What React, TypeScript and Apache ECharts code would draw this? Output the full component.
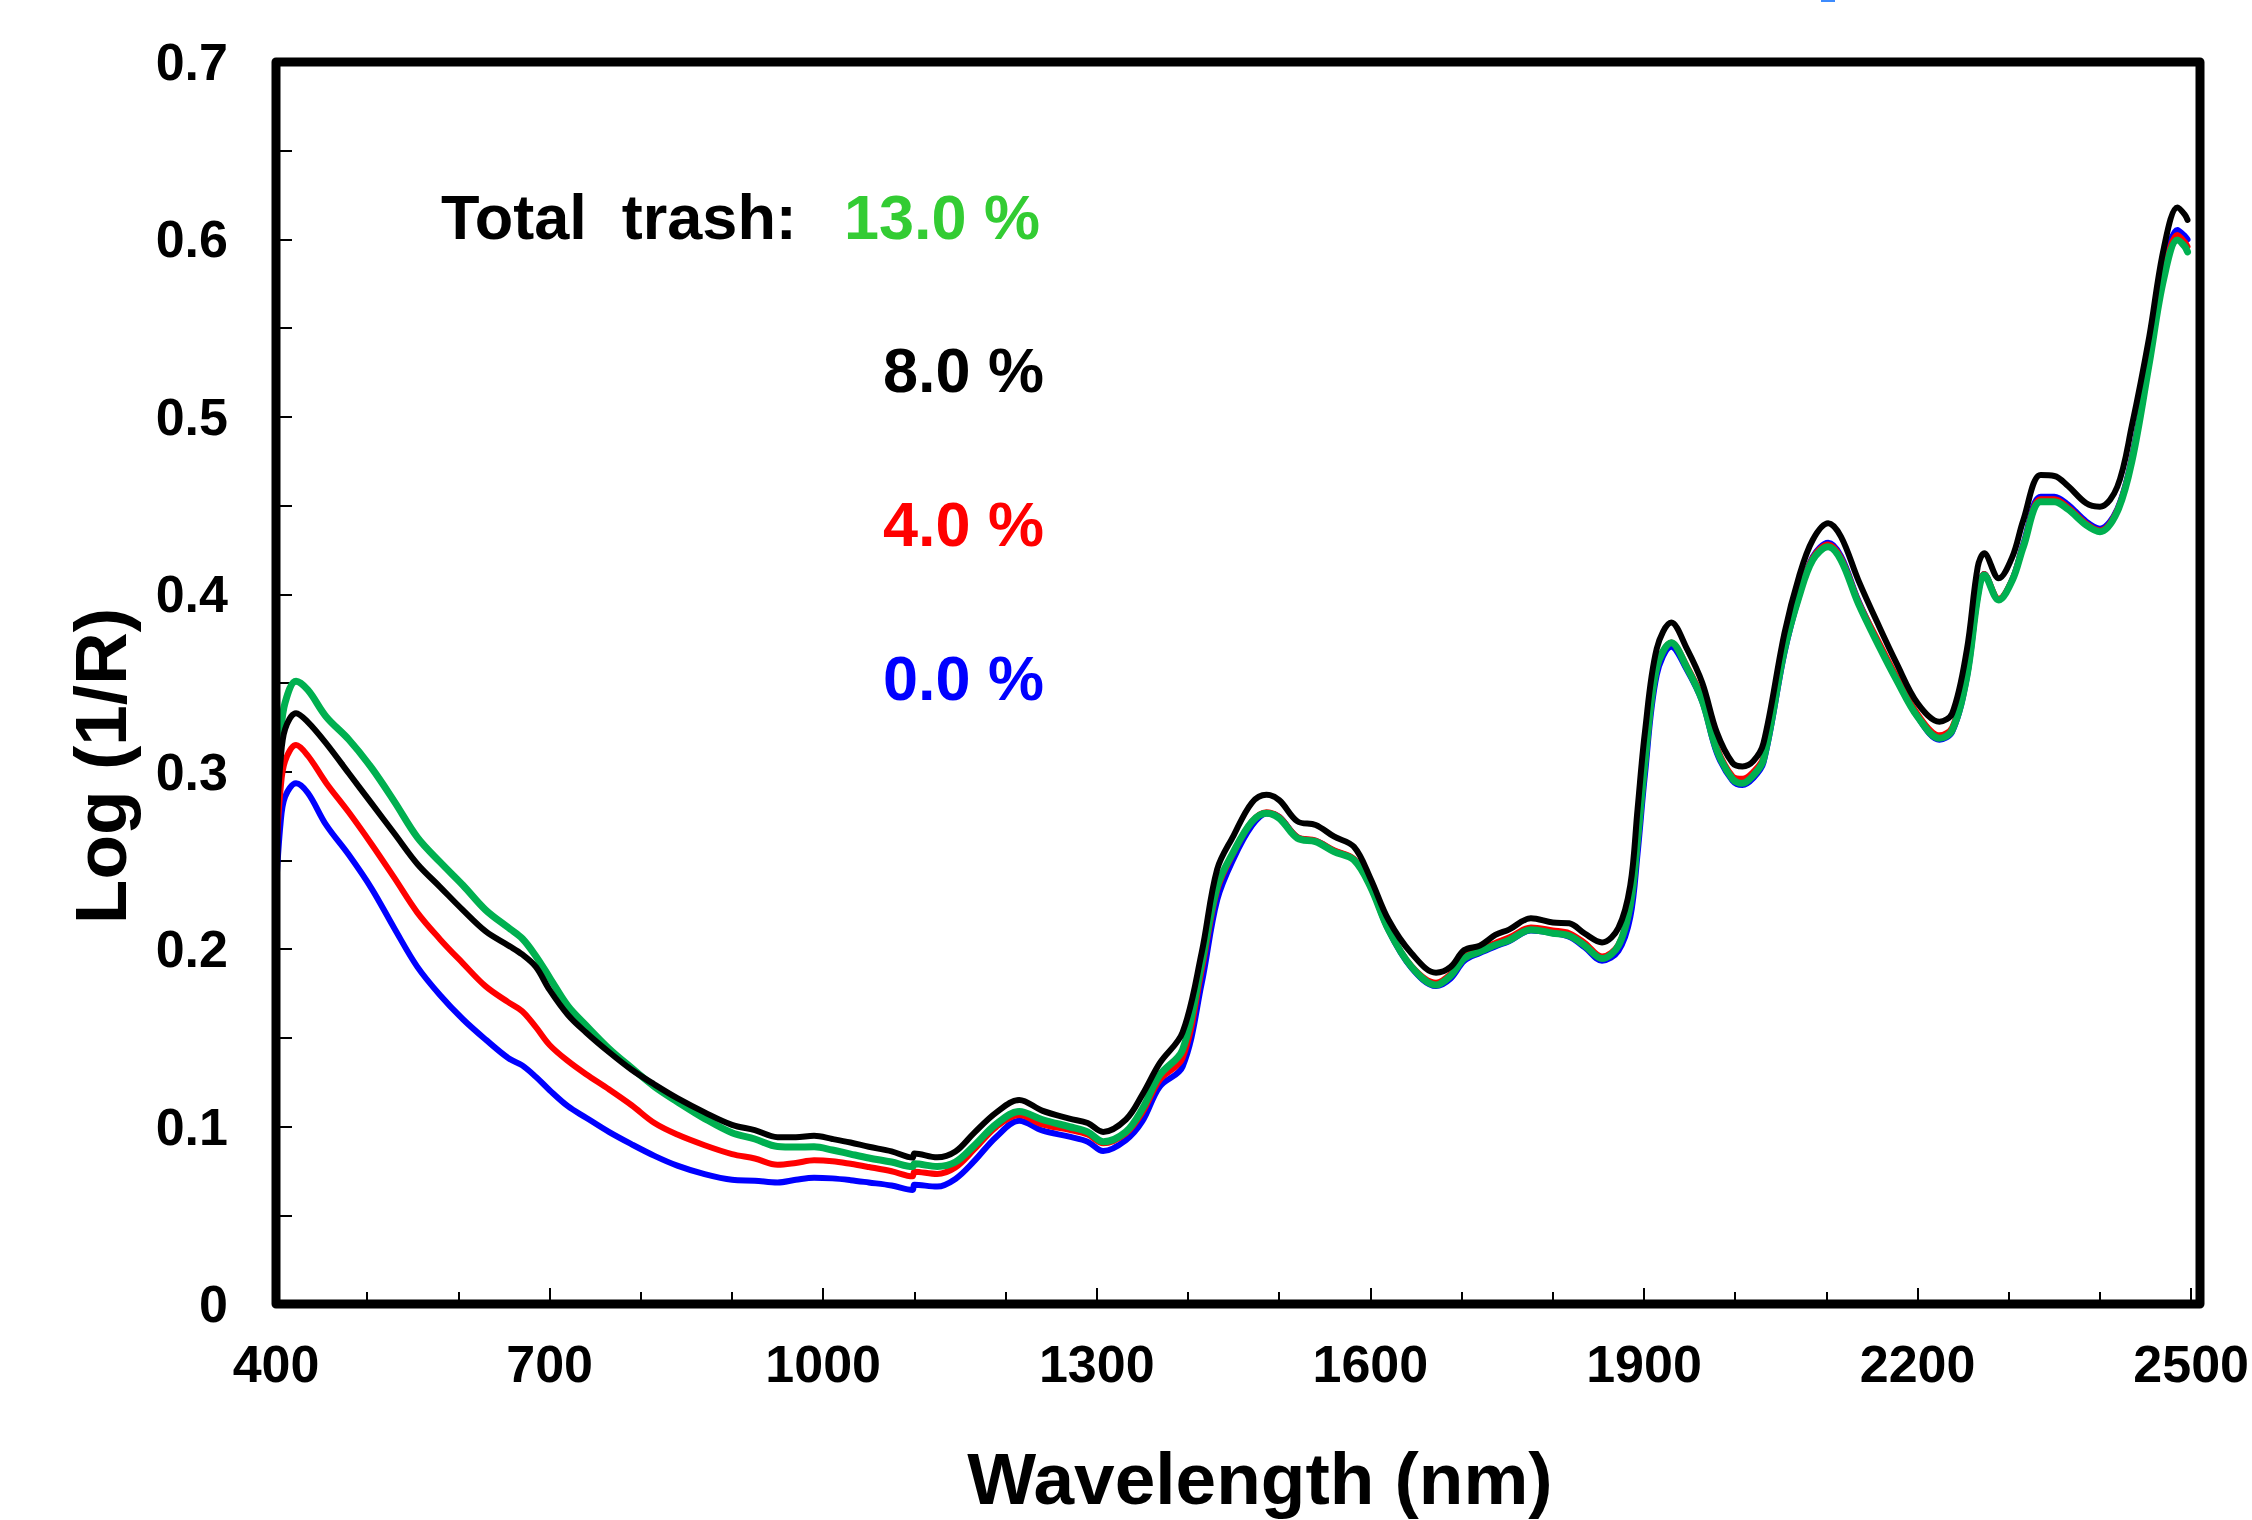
import React, { useEffect, useRef } from "react";
import * as echarts from "echarts";

const wavelength = [
  400, 405, 410, 422, 435, 455, 480, 505, 530, 555,
  580, 605, 630, 655, 670, 685, 700, 720, 740, 765,
  790, 815, 840, 870, 900, 925, 950, 970, 990, 1010,
  1030, 1050, 1075, 1098, 1100, 1125, 1145, 1165, 1190, 1215,
  1240, 1270, 1290, 1307, 1332, 1350, 1369, 1394, 1415, 1432,
  1450, 1470, 1486, 1500, 1520, 1540, 1560, 1582, 1600, 1620,
  1645, 1672, 1688, 1703, 1720, 1737, 1752, 1776, 1800, 1818,
  1835, 1854, 1872, 1885, 1893, 1901, 1914, 1930, 1947, 1964,
  1980, 1997, 2008, 2020, 2031, 2054, 2070, 2085, 2102, 2116,
  2135, 2158, 2177, 2200, 2224, 2238, 2254, 2266, 2273, 2289,
  2304, 2316, 2335, 2350, 2365, 2385, 2400, 2419, 2435, 2454,
  2470, 2485, 2493, 2496,
];

const trash8 = [
  0.266, 0.306, 0.324, 0.333, 0.328, 0.316, 0.299, 0.282, 0.265, 0.248,
  0.235, 0.222, 0.21, 0.202, 0.197, 0.19, 0.177, 0.163, 0.153, 0.142,
  0.132, 0.1237, 0.116, 0.108, 0.101, 0.098, 0.094, 0.094, 0.0948, 0.093,
  0.091, 0.0886, 0.086, 0.0825, 0.0848, 0.0827, 0.086, 0.0962, 0.108, 0.115,
  0.109, 0.1045, 0.102, 0.097, 0.104, 0.118, 0.1357, 0.153, 0.198, 0.245,
  0.264, 0.2825, 0.287, 0.284, 0.272, 0.27, 0.2635, 0.2577, 0.24, 0.2164,
  0.1977, 0.1867, 0.19, 0.1995, 0.202, 0.208, 0.211, 0.2174, 0.215, 0.2146,
  0.2088, 0.2038, 0.212, 0.236, 0.279, 0.322, 0.3694, 0.3841, 0.3694, 0.35,
  0.322, 0.305, 0.303, 0.306, 0.316, 0.378, 0.41, 0.4306, 0.44, 0.4325,
  0.408, 0.3817, 0.3611, 0.3386, 0.3282, 0.3329, 0.3686, 0.4155, 0.4231, 0.409,
  0.4212, 0.4419, 0.4672, 0.4667, 0.461, 0.4513, 0.4494, 0.4606, 0.495, 0.545,
  0.595, 0.618, 0.614, 0.611,
];

const trash13 = [
  0.286, 0.321, 0.339, 0.351, 0.346, 0.331, 0.318, 0.302, 0.283, 0.263,
  0.249, 0.236, 0.222, 0.212, 0.206, 0.196, 0.184, 0.168, 0.157, 0.144,
  0.133, 0.1225, 0.114, 0.1045, 0.0965, 0.093, 0.0888, 0.0885, 0.0886, 0.0868,
  0.0845, 0.0823, 0.08, 0.0775, 0.079, 0.0775, 0.08, 0.089, 0.1015, 0.1085,
  0.104, 0.0999, 0.097, 0.0915, 0.0971, 0.11, 0.129, 0.1432, 0.192, 0.2352,
  0.255, 0.2718, 0.2766, 0.2738, 0.2625, 0.2606, 0.255, 0.2502, 0.2352, 0.2108,
  0.1901, 0.1798, 0.185, 0.1948, 0.1986, 0.2023, 0.205, 0.211, 0.209, 0.2075,
  0.202, 0.1947, 0.202, 0.225, 0.262, 0.305, 0.3587, 0.3727, 0.3587, 0.34,
  0.312, 0.296, 0.2935, 0.298, 0.3066, 0.3686, 0.3986, 0.4193, 0.4268, 0.4193,
  0.3949, 0.3705, 0.3517, 0.331, 0.3188, 0.3235, 0.3536, 0.3986, 0.4109, 0.3968,
  0.408, 0.4268, 0.4522, 0.4522, 0.4479, 0.439, 0.4353, 0.4466, 0.475, 0.53,
  0.578, 0.5997, 0.596, 0.593,
];

const trash4 = [
  0.252, 0.29, 0.306, 0.315, 0.309, 0.2937, 0.277, 0.259, 0.24, 0.2206,
  0.2055, 0.192, 0.179, 0.17, 0.165, 0.156, 0.146, 0.137, 0.1295, 0.121,
  0.112, 0.102, 0.0955, 0.0895, 0.0845, 0.082, 0.0785, 0.0795, 0.081, 0.0805,
  0.079, 0.0772, 0.0748, 0.072, 0.0746, 0.0733, 0.077, 0.0868, 0.0999, 0.1065,
  0.1012, 0.0981, 0.0955, 0.0906, 0.0962, 0.108, 0.1262, 0.1385, 0.1882, 0.2333,
  0.2545, 0.2718, 0.2772, 0.2745, 0.2632, 0.2612, 0.2557, 0.2508, 0.2355, 0.2108,
  0.1905, 0.181, 0.186, 0.1958, 0.1998, 0.2035, 0.2065, 0.2122, 0.2105, 0.209,
  0.2035, 0.1958, 0.2025, 0.2245, 0.261, 0.304, 0.3585, 0.3728, 0.3595, 0.3415,
  0.3135, 0.2975, 0.296, 0.3, 0.308, 0.3695, 0.3995, 0.4205, 0.428, 0.4205,
  0.396, 0.3725, 0.3535, 0.3325, 0.3205, 0.325, 0.355, 0.3995, 0.4115, 0.3975,
  0.4085, 0.4275, 0.4535, 0.4535, 0.449, 0.4398, 0.436, 0.4475, 0.476, 0.531,
  0.58, 0.6025, 0.5985, 0.596,
];

const trash0 = [
  0.233, 0.271, 0.286, 0.2935, 0.288, 0.27, 0.253, 0.234, 0.2115, 0.19,
  0.174, 0.1605, 0.149, 0.1385, 0.1345, 0.128, 0.1205, 0.1115, 0.105, 0.097,
  0.09, 0.0835, 0.078, 0.0732, 0.07, 0.0695, 0.0685, 0.07, 0.0712, 0.0708,
  0.0698, 0.0685, 0.0668, 0.0643, 0.0672, 0.0662, 0.0705, 0.0802, 0.0943, 0.1033,
  0.0978, 0.0943, 0.0915, 0.0862, 0.0924, 0.103, 0.1225, 0.1337, 0.1807, 0.2277,
  0.251, 0.2695, 0.2765, 0.2745, 0.263, 0.261, 0.2555, 0.2505, 0.236, 0.2105,
  0.1895, 0.1792, 0.1835, 0.1935, 0.1978, 0.2015, 0.2045, 0.2105, 0.209, 0.207,
  0.201, 0.1935, 0.199, 0.218, 0.254, 0.298, 0.3545, 0.3705, 0.3575, 0.3395,
  0.3105, 0.295, 0.2925, 0.2965, 0.305, 0.367, 0.399, 0.421, 0.429, 0.4215,
  0.3965, 0.3715, 0.3525, 0.331, 0.318, 0.3225, 0.353, 0.399, 0.4115, 0.397,
  0.4085, 0.4285, 0.455, 0.455, 0.4505, 0.441, 0.437, 0.448, 0.477, 0.533,
  0.583, 0.6053, 0.602, 0.6,
];

const legendTitle = "Total  trash:";
const legendLabels = ["13.0 %", "8.0 %", "4.0 %", "0.0 %"];
const xTitle = "Wavelength (nm)";
const yTitle = "Log (1/R)";

const FONT = '"Liberation Sans", Arial, Helvetica, sans-serif';

function pairs(ys: number[]) {
  return wavelength.map((w, i) => [w, ys[i]]);
}

function lineSeries(name: string, ys: number[], color: string, width: number, z: number) {
  return {
    name,
    type: "line",
    data: pairs(ys),
    showSymbol: false,
    symbol: "none",
    smooth: 0.35,
    z,
    lineStyle: { color, width, cap: "round", join: "round" },
  };
}

export default function App() {
  const ref = useRef<HTMLDivElement>(null);

  useEffect(() => {
    document.body.style.margin = "0";
    if (!ref.current) return;
    const chart = echarts.init(ref.current, null, { renderer: "svg" });

    const axisLabel = {
      fontSize: 52,
      fontWeight: "bold",
      fontFamily: FONT,
      color: "#000",
    };
    const tickStyle = { color: "#000", width: 2 };

    const textStyle = (size: number) => `bold ${size}px ${FONT}`;

    const option: any = {
      animation: false,
      backgroundColor: "#fff",
      grid: { left: 276, right: 52, top: 62, bottom: 216, show: false },
      xAxis: {
        type: "value",
        min: 400,
        max: 2500,
        interval: 300,
        axisLine: { show: false },
        axisTick: { show: true, inside: true, length: 16, lineStyle: tickStyle },
        minorTick: { show: true, splitNumber: 3, length: 12, lineStyle: tickStyle },
        splitLine: { show: false },
        minorSplitLine: { show: false },
        axisLabel: { ...axisLabel, margin: 34, formatter: (v: number) => String(Math.round(v)) },
      },
      yAxis: {
        type: "value",
        min: 0,
        max: 0.7,
        interval: 0.1,
        axisLine: { show: false },
        axisTick: { show: true, inside: true, length: 16, lineStyle: tickStyle },
        minorTick: { show: true, splitNumber: 2, length: 16, lineStyle: tickStyle },
        splitLine: { show: false },
        minorSplitLine: { show: false },
        axisLabel: {
          ...axisLabel,
          margin: 48,
          formatter: (v: number) => (Math.abs(v) < 1e-9 ? "0" : v.toFixed(1)),
        },
      },
      series: [
        lineSeries("0.0 %", trash0, "#0000FF", 6, 2),
        lineSeries("4.0 %", trash4, "#FF0000", 6, 3),
        lineSeries("13.0 %", trash13, "#00B050", 7, 4),
        lineSeries("8.0 %", trash8, "#000000", 6, 5),
      ],
      graphic: [
        {
          type: "rect",
          z: 100,
          shape: { x: 276, y: 62, width: 1924, height: 1242 },
          style: { fill: "rgba(0,0,0,0)", stroke: "#000", lineWidth: 9, lineJoin: "round" },
        },
        {
          type: "rect",
          z: 100,
          shape: { x: 1821, y: 0, width: 14, height: 2 },
          style: { fill: "#3d8bfd" },
        },
        {
          type: "text",
          z: 100,
          x: 441,
          y: 217,
          style: { text: legendTitle, fill: "#000", font: textStyle(63), align: "left", verticalAlign: "middle", textAlign: "left", textVerticalAlign: "middle" },
        },
        {
          type: "text",
          z: 100,
          x: 844,
          y: 217,
          style: { text: legendLabels[0], fill: "#33CC33", font: textStyle(63), align: "left", verticalAlign: "middle", textAlign: "left", textVerticalAlign: "middle" },
        },
        {
          type: "text",
          z: 100,
          x: 883,
          y: 370,
          style: { text: legendLabels[1], fill: "#000000", font: textStyle(63), align: "left", verticalAlign: "middle", textAlign: "left", textVerticalAlign: "middle" },
        },
        {
          type: "text",
          z: 100,
          x: 883,
          y: 524,
          style: { text: legendLabels[2], fill: "#FF0000", font: textStyle(63), align: "left", verticalAlign: "middle", textAlign: "left", textVerticalAlign: "middle" },
        },
        {
          type: "text",
          z: 100,
          x: 883,
          y: 678,
          style: { text: legendLabels[3], fill: "#0000FF", font: textStyle(63), align: "left", verticalAlign: "middle", textAlign: "left", textVerticalAlign: "middle" },
        },
        {
          type: "text",
          z: 100,
          x: 1260,
          y: 1478,
          style: { text: xTitle, fill: "#000", font: textStyle(73), align: "center", verticalAlign: "middle", textAlign: "center", textVerticalAlign: "middle" },
        },
        {
          type: "text",
          z: 100,
          x: 100,
          y: 766,
          rotation: Math.PI / 2,
          style: { text: yTitle, fill: "#000", font: textStyle(73), align: "center", verticalAlign: "middle", textAlign: "center", textVerticalAlign: "middle" },
        },
      ],
    };

    chart.setOption(option);
    return () => {
      chart.dispose();
    };
  }, []);

  return (
    <div
      ref={ref}
      style={{ position: "fixed", left: 0, top: 0, width: 2252, height: 1520, background: "#fff" }}
    />
  );
}
